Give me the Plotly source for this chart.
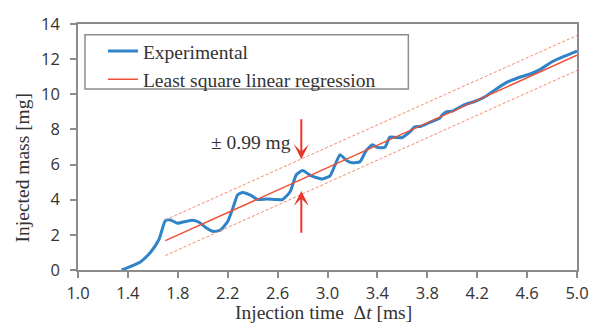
import plotly.graph_objects as go

exp_t = [1.35, 1.50, 1.58, 1.65, 1.70, 1.74, 1.80, 1.86, 1.92, 1.97, 2.03, 2.08, 2.14,
         2.20, 2.24, 2.28, 2.32, 2.39, 2.44, 2.51, 2.58, 2.64, 2.70, 2.75, 2.80, 2.87,
         2.96, 3.02, 3.06, 3.10, 3.15, 3.20, 3.26, 3.31, 3.36, 3.40, 3.46, 3.50, 3.55,
         3.60, 3.66, 3.70, 3.75, 3.82, 3.90, 3.92, 3.95, 4.00, 4.04, 4.10, 4.18, 4.27,
         4.35, 4.44, 4.54, 4.63, 4.71, 4.80, 4.90, 5.00]
exp_m = [0.00, 0.46, 1.00, 1.75, 2.81, 2.85, 2.66, 2.76, 2.83, 2.72, 2.39, 2.20, 2.26,
         2.76, 3.49, 4.28, 4.41, 4.23, 4.01, 4.04, 4.01, 4.01, 4.45, 5.42, 5.66, 5.36,
         5.18, 5.36, 5.97, 6.56, 6.25, 6.10, 6.16, 6.80, 7.13, 6.98, 6.98, 7.57, 7.54,
         7.54, 7.86, 8.14, 8.18, 8.40, 8.64, 8.82, 9.00, 9.04, 9.19, 9.41, 9.59, 9.89,
         10.29, 10.69, 10.97, 11.17, 11.43, 11.85, 12.17, 12.46]

# Regression line and ±0.99 mg band
reg_t = [1.7, 5.0]
reg_m = [1.67, 12.22]
upper_m = [2.85, 13.35]
lower_m = [0.82, 11.36]

x_ticks = [1.0, 1.4, 1.8, 2.2, 2.6, 3.0, 3.4, 3.8, 4.2, 4.6, 5.0]
x_ticklabels = ["1.0", "1.4", "1.8", "2.2", "2.6", "3.0", "3.4", "3.8", "4.2", "4.6", "5.0"]
y_ticks = [0, 2, 4, 6, 8, 10, 12, 14]

arrow_t = 2.79
arrow_top = [8.67, 6.30]
arrow_bot = [2.04, 4.50]

BLUE = "#2f83c8"
RED = "#ee4f36"
BAND = "#f58a6c"
ARROW = "#e8372a"
SERIF = "Liberation Serif"
SANS = "Open Sans"

fig = go.Figure()
fig.add_trace(go.Scatter(x=exp_t, y=exp_m, mode="lines", name="Experimental",
                         line=dict(color=BLUE, width=3, shape="spline", smoothing=0.5)))
fig.add_trace(go.Scatter(x=reg_t, y=reg_m, mode="lines", name="Least square linear regression",
                         line=dict(color=RED, width=1.5)))
fig.add_trace(go.Scatter(x=reg_t, y=upper_m, mode="lines", showlegend=False,
                         line=dict(color=BAND, width=1, dash="3px,2px")))
fig.add_trace(go.Scatter(x=reg_t, y=lower_m, mode="lines", showlegend=False,
                         line=dict(color=BAND, width=1, dash="3px,2px")))

axis_common = dict(showline=True, linecolor="#8c8c8c", linewidth=1.5, mirror=True,
                   ticks="outside", ticklen=6, tickcolor="#8c8c8c", tickwidth=1.5,
                   showgrid=False, zeroline=False,
                   tickfont=dict(family=SANS, size=16.5, color="#333333"))

fig.update_xaxes(range=[1.0, 5.0], tickvals=x_ticks, ticktext=x_ticklabels,
                 ticklabelstandoff=1, **axis_common)
fig.update_yaxes(range=[0, 14], tickvals=y_ticks, ticklabelstandoff=7, **axis_common)

L, R, T, B = 78, 23, 16, 60
W, H = 601, 330
pw, ph = W - L - R, H - T - B

def px_x(px):
    return (px - L) / pw

def px_y(py):
    return (H - B - py) / ph

annotations = [
    dict(x=arrow_t, y=arrow_top[1], ax=arrow_t, ay=arrow_top[0], xref="x", yref="y",
         axref="x", ayref="y", showarrow=True, arrowhead=3, arrowsize=1.25,
         arrowwidth=2, arrowcolor=ARROW, text=""),
    dict(x=arrow_t, y=arrow_bot[1], ax=arrow_t, ay=arrow_bot[0], xref="x", yref="y",
         axref="x", ayref="y", showarrow=True, arrowhead=3, arrowsize=1.25,
         arrowwidth=2, arrowcolor=ARROW, text=""),
    dict(x=2.39, y=7.28, xref="x", yref="y", showarrow=False, text="± 0.99 mg",
         xanchor="center", yanchor="middle",
         font=dict(family=SERIF, size=19.5, color="#333333")),
    dict(x=px_x(22), y=px_y(165), xref="paper", yref="paper", showarrow=False,
         text="Injected mass [mg]", textangle=-90, xanchor="center", yanchor="middle",
         font=dict(family=SERIF, size=19.5, color="#333333")),
    dict(x=px_x(324), y=px_y(314), xref="paper", yref="paper", showarrow=False,
         text="Injection time  Δ<i>t</i> [ms]", xanchor="center", yanchor="middle",
         font=dict(family=SERIF, size=19.5, color="#333333")),
]

fig.update_layout(
    width=W, height=H,
    margin=dict(l=L, r=R, t=T, b=B, pad=0),
    paper_bgcolor="white", plot_bgcolor="white",
    showlegend=True,
    legend=dict(x=px_x(103), y=px_y(24), xanchor="left", yanchor="top",
                bgcolor="rgba(0,0,0,0)", borderwidth=0,
                font=dict(family=SERIF, size=19.5, color="#333333"),
                tracegroupgap=0),
    annotations=annotations,
    shapes=[dict(type="rect", xref="paper", yref="paper",
                 x0=px_x(85), x1=px_x(409), y0=px_y(83), y1=px_y(27),
                 line=dict(color="#8c8c8c", width=1.5), fillcolor="white", layer="below")],
)

fig.write_html("out.html")
